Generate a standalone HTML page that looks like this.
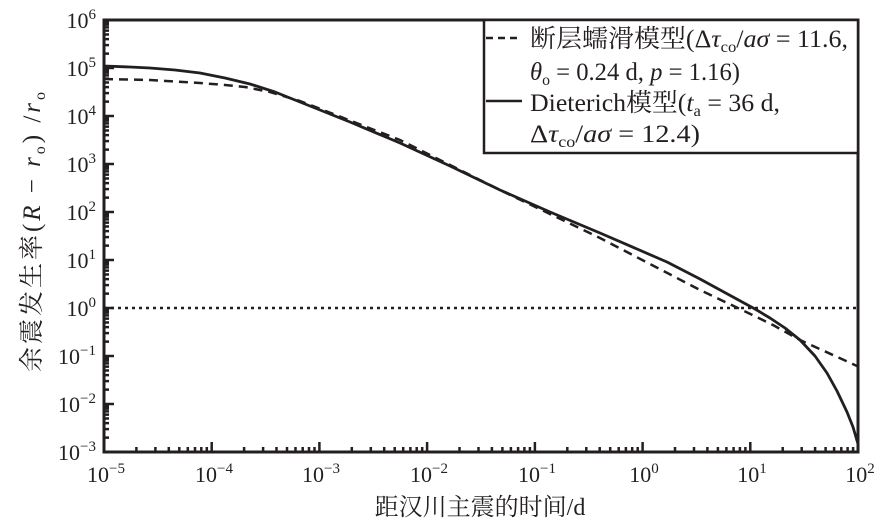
<!DOCTYPE html>
<html><head><meta charset="utf-8"><style>
html,body{margin:0;padding:0;background:#fff;}
svg{display:block;}
text{font-family:"Liberation Serif","Noto Serif CJK SC","Noto Sans CJK SC",serif;fill:#231f20;}
</style></head><body>
<svg width="888" height="525" viewBox="0 0 888 525" xmlns="http://www.w3.org/2000/svg">
<defs>
<path id="xd" d="M0,452V442M32.4,452V447M51.4,452V447M64.8,452V447M75.3,452V447M83.8,452V447M91,452V447M97.3,452V447M102.8,452V447" stroke="#231f20" stroke-width="2.5" fill="none"/>
<path id="yd" d="M104,0H114M104,-14.4H109M104,-22.9H109M104,-28.9H109M104,-33.5H109M104,-37.4H109M104,-40.6H109M104,-43.4H109M104,-45.8H109" stroke="#231f20" stroke-width="2.5" fill="none"/>
</defs>
<use href="#xd" x="104"/><use href="#xd" x="211.7"/><use href="#xd" x="319.4"/><use href="#xd" x="427.1"/><use href="#xd" x="534.9"/><use href="#xd" x="642.6"/><use href="#xd" x="750.3"/>
<use href="#yd" y="452"/><use href="#yd" y="404"/><use href="#yd" y="356"/><use href="#yd" y="308"/><use href="#yd" y="260"/><use href="#yd" y="212"/><use href="#yd" y="164"/><use href="#yd" y="116"/><use href="#yd" y="68"/>
<line x1="104" y1="308" x2="857" y2="308" stroke="#231f20" stroke-width="2.5" stroke-dasharray="3,4"/>
<polyline points="104,79 150,80 200,83 225,85 245,87 270,92 300,101 400,140 500,190 600,238 700,290 740,309 773,325 800,340 857,366" stroke="#231f20" stroke-width="2.5" fill="none" stroke-dasharray="9,6"/>
<polyline points="104,66 130,67 150,68 175,70 200,73 225,78 250,84 275,92 300,102 350,122 400,143 450,166 500,190 550,212 600,233 667,262 700,279 733,297 755,309 770,318 785,328 800,340 815,356 827,373 837,391 847,412 853,427 858,444" stroke="#231f20" stroke-width="2.8" fill="none" stroke-linejoin="round"/>
<rect x="104" y="20" width="754" height="432" fill="none" stroke="#231f20" stroke-width="3"/>
<rect x="484" y="20" width="374" height="133" fill="#fff" stroke="#231f20" stroke-width="2.5"/>
<line x1="486" y1="38" x2="522" y2="38" stroke="#231f20" stroke-width="2.5" stroke-dasharray="7,5"/>
<line x1="486" y1="101" x2="522" y2="101" stroke="#231f20" stroke-width="2.5"/>
<g font-size="25">
<text x="530" y="47" textLength="318" lengthAdjust="spacingAndGlyphs">断层蠕滑模型(Δ<tspan font-style="italic">τ</tspan><tspan font-size="16" dy="5">co</tspan><tspan dy="-5">/</tspan><tspan font-style="italic">aσ</tspan> = 11.6,</text>
<text x="530" y="80" textLength="210" lengthAdjust="spacingAndGlyphs"><tspan font-style="italic">θ</tspan><tspan font-size="16" dy="5">o</tspan><tspan dy="-5"> = 0.24 d, </tspan><tspan font-style="italic">p</tspan> = 1.16)</text>
<text x="530" y="111" textLength="250" lengthAdjust="spacingAndGlyphs">Dieterich模型(<tspan font-style="italic">t</tspan><tspan font-size="16" dy="5">a</tspan><tspan dy="-5"> = 36 d,</tspan></text>
<text x="530" y="142" textLength="170" lengthAdjust="spacingAndGlyphs">Δ<tspan font-style="italic">τ</tspan><tspan font-size="16" dy="5">co</tspan><tspan dy="-5">/</tspan><tspan font-style="italic">aσ</tspan> = 12.4)</text>
</g>
<g font-size="22" text-anchor="middle">
<text x="106" y="482">10<tspan font-size="15" dy="-9">−5</tspan></text>
<text x="214" y="482">10<tspan font-size="15" dy="-9">−4</tspan></text>
<text x="321" y="482">10<tspan font-size="15" dy="-9">−3</tspan></text>
<text x="429" y="482">10<tspan font-size="15" dy="-9">−2</tspan></text>
<text x="537" y="482">10<tspan font-size="15" dy="-9">−1</tspan></text>
<text x="644" y="482">10<tspan font-size="15" dy="-9">0</tspan></text>
<text x="752" y="482">10<tspan font-size="15" dy="-9">1</tspan></text>
<text x="860" y="482">10<tspan font-size="15" dy="-9">2</tspan></text>
</g>
<g font-size="22" text-anchor="end">
<text x="96" y="460">10<tspan font-size="15" dy="-9">−3</tspan></text>
<text x="96" y="412">10<tspan font-size="15" dy="-9">−2</tspan></text>
<text x="96" y="364">10<tspan font-size="15" dy="-9">−1</tspan></text>
<text x="96" y="316">10<tspan font-size="15" dy="-9">0</tspan></text>
<text x="96" y="268">10<tspan font-size="15" dy="-9">1</tspan></text>
<text x="96" y="220">10<tspan font-size="15" dy="-9">2</tspan></text>
<text x="96" y="172">10<tspan font-size="15" dy="-9">3</tspan></text>
<text x="96" y="124">10<tspan font-size="15" dy="-9">4</tspan></text>
<text x="96" y="76">10<tspan font-size="15" dy="-9">5</tspan></text>
<text x="96" y="28">10<tspan font-size="15" dy="-9">6</tspan></text>
</g>
<text x="480" y="515" font-size="24" text-anchor="middle">距汉川主震的时间/d</text>
<text transform="translate(40,232) rotate(-90)" font-size="25" text-anchor="middle" textLength="280" lengthAdjust="spacing">余震发生率(<tspan font-style="italic">R</tspan> − <tspan font-style="italic">r</tspan><tspan font-size="16" dy="5">o</tspan><tspan dy="-5">) /</tspan><tspan font-style="italic">r</tspan><tspan font-size="16" dy="5">o</tspan></text>
</svg>
</body></html>
